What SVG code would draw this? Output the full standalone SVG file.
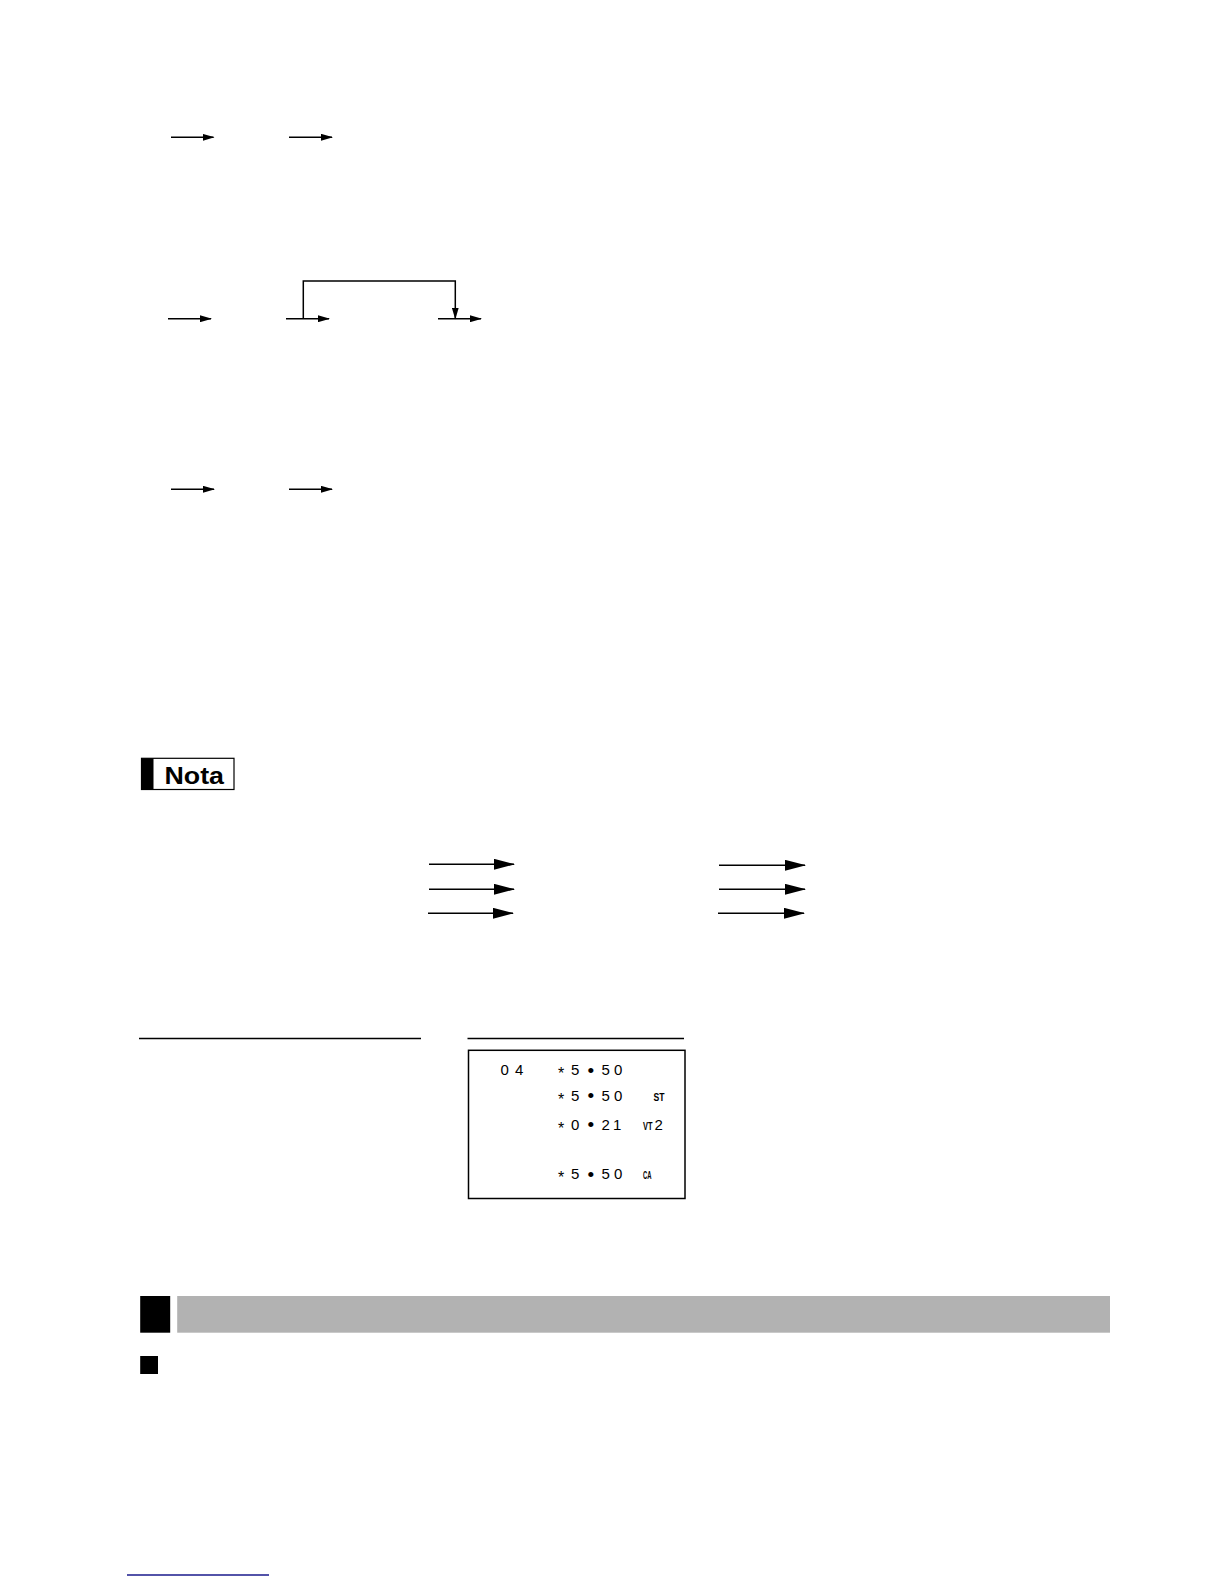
<svg xmlns="http://www.w3.org/2000/svg" width="1224" height="1584" viewBox="0 0 1224 1584">
<style>
.ln{stroke:#000;stroke-width:1.5;fill:none}
.lnb{stroke:#000;stroke-width:1.6;fill:none}
.rc{font-family:"Liberation Sans","DejaVu Sans",sans-serif;font-size:15px;fill:#000}
.st{font-family:"Liberation Sans","DejaVu Sans",sans-serif;font-size:16px;fill:#000}
.bu{font-family:"Liberation Sans","DejaVu Sans",sans-serif;font-size:19px;fill:#000}
.sm{font-family:"Liberation Sans Narrow","Liberation Sans",sans-serif;font-size:10px;font-weight:bold;fill:#000}
</style>
<defs>
<marker id="ah" markerWidth="12" markerHeight="7" refX="11" refY="3.5" orient="auto" markerUnits="userSpaceOnUse"><path d="M0,0 L12,3.5 L0,7 Z" fill="#000"/></marker>
<marker id="ahb" markerWidth="21" markerHeight="11" refX="20" refY="5.5" orient="auto" markerUnits="userSpaceOnUse"><path d="M0,0 L21,5.5 L0,11 Z" fill="#000"/></marker>
</defs>
<rect width="1224" height="1584" fill="#fff"/>
<g id="connectors">
<line class="ln" x1="171" y1="137.3" x2="213.5" y2="137.3" marker-end="url(#ah)"/>
<line class="ln" x1="289" y1="137.3" x2="332" y2="137.3" marker-end="url(#ah)"/>
<line class="ln" x1="168" y1="318.7" x2="211" y2="318.7" marker-end="url(#ah)"/>
<line class="ln" x1="286" y1="318.7" x2="329" y2="318.7" marker-end="url(#ah)"/>
<polyline class="ln" points="303.3,318.7 303.3,281 455.3,281 455.3,318.5" marker-end="url(#ah)"/>
<line class="ln" x1="438" y1="318.7" x2="481" y2="318.7" marker-end="url(#ah)"/>
<line class="ln" x1="171" y1="489.3" x2="214" y2="489.3" marker-end="url(#ah)"/>
<line class="ln" x1="289" y1="489.3" x2="332" y2="489.3" marker-end="url(#ah)"/>
<line class="lnb" x1="429" y1="864.3" x2="514" y2="864.3" marker-end="url(#ahb)"/>
<line class="lnb" x1="429" y1="889.3" x2="514" y2="889.3" marker-end="url(#ahb)"/>
<line class="lnb" x1="428" y1="913.3" x2="513" y2="913.3" marker-end="url(#ahb)"/>
<line class="lnb" x1="719" y1="865.3" x2="805" y2="865.3" marker-end="url(#ahb)"/>
<line class="lnb" x1="719" y1="889.3" x2="805" y2="889.3" marker-end="url(#ahb)"/>
<line class="lnb" x1="718" y1="913.3" x2="804" y2="913.3" marker-end="url(#ahb)"/>
</g>
<g id="nota">
<rect x="141.5" y="758.3" width="92.5" height="31.2" fill="#fff" stroke="#000" stroke-width="1.2"/>
<rect x="141.5" y="758.3" width="12" height="31.2" fill="#000"/>
<text x="164.5" y="783.5" font-family="'Liberation Sans',Arial,sans-serif" font-weight="bold" font-size="24" textLength="59.5" lengthAdjust="spacingAndGlyphs">Nota</text>
</g>
<g id="separators">
<line x1="139" y1="1038.5" x2="421" y2="1038.5" stroke="#000" stroke-width="1.5"/>
<line x1="467.5" y1="1038.5" x2="684" y2="1038.5" stroke="#000" stroke-width="1.5"/>
</g>
<g id="receipt">
<rect x="468.5" y="1050.3" width="216.5" height="148.2" fill="#fff" stroke="#000" stroke-width="1.5"/>
<text class="rc" x="500.5 515" y="1074.8">04</text>
<text class="st" x="558" y="1078.8">*</text>
<text class="rc" x="571" y="1074.8">5</text>
<text class="bu" x="587.5" y="1076.5">•</text>
<text class="rc" x="601.5 614" y="1074.8">50</text>
<text class="st" x="558" y="1104.5">*</text>
<text class="rc" x="571" y="1100.5">5</text>
<text class="bu" x="587.5" y="1102.2">•</text>
<text class="rc" x="601.5 614" y="1100.5">50</text>
<text class="sm" x="653.5" y="1100.5" textLength="11" lengthAdjust="spacingAndGlyphs">ST</text>
<text class="st" x="558" y="1133.5">*</text>
<text class="rc" x="571" y="1129.5">0</text>
<text class="bu" x="587.5" y="1131.2">•</text>
<text class="rc" x="601.5 613" y="1129.5">21</text>
<text class="sm" x="643" y="1129.5" textLength="9.5" lengthAdjust="spacingAndGlyphs">VT</text>
<text class="rc" x="654.5" y="1129.5">2</text>
<text class="st" x="558" y="1183">*</text>
<text class="rc" x="571" y="1179">5</text>
<text class="bu" x="587.5" y="1180.7">•</text>
<text class="rc" x="601.5 614" y="1179">50</text>
<text class="sm" x="643" y="1179" textLength="8.5" lengthAdjust="spacingAndGlyphs">CA</text>
</g>
<g id="section-header">
<rect x="140.2" y="1296" width="30" height="36.7" fill="#000"/>
<rect x="177.2" y="1296" width="932.8" height="36.7" fill="#b2b2b2"/>
</g>
<g id="bullet">
<rect x="140.2" y="1356" width="17.8" height="18" fill="#000"/>
</g>
<g id="footer-link">
<line x1="127" y1="1575" x2="269" y2="1575" stroke="#1a1a8c" stroke-width="1.3"/>
</g>
</svg>
